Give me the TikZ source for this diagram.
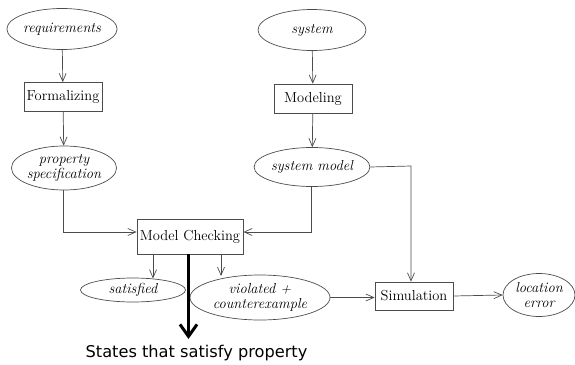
\documentclass[tikz,border=0pt]{standalone}
\usepackage{fontspec}
\newfontfamily\dejavu{DejaVu Sans}
\usetikzlibrary{shapes.geometric,arrows.meta}
\begin{document}
\begin{tikzpicture}[x=1pt,y=-1pt,
  every node/.style={font=\fontsize{14.5}{15}\selectfont},
  oval/.style={ellipse,draw=black!70,line width=0.7pt,inner sep=0pt,font=\fontsize{14.5}{15}\selectfont\itshape,align=center},
  boxnode/.style={rectangle,draw=black!70,line width=0.7pt,inner sep=0pt,align=center},
  conn/.style={draw=black!70,line width=0.7pt,-{Straight Barb[length=8pt,width=7pt]}},
  bigarrow/.style={draw=black,line width=3pt,-{Straight Barb[length=12pt,width=17pt,line width=3pt]}}]
\useasboundingbox (0,0) rectangle (575,364);
\node[oval,minimum width=107pt,minimum height=41pt] (req) at (62,29) {requirements};
\node[boxnode,minimum width=78pt,minimum height=29pt] (form) at (63,97) {Formalizing};
\node[oval,minimum width=105pt,minimum height=44pt] (prop) at (64,168) {property\\specification};
\node[oval,minimum width=108pt,minimum height=41pt] (sys) at (312,30) {system};
\node[boxnode,minimum width=78pt,minimum height=29pt] (mod) at (313,98.5) {Modeling};
\node[oval,minimum width=107pt,minimum height=39pt] (sysm) at (312,167) {system model};
\node[boxnode,minimum width=106pt,minimum height=35pt] (mc) at (190,236.5) {Model Checking};
\node[oval,minimum width=105pt,minimum height=24pt] (sat) at (133,290) {satisfied};
\node[oval,minimum width=140pt,minimum height=45pt] (vio) at (260,297.5) {violated +\\counterexample};
\node[boxnode,minimum width=78pt,minimum height=28pt] (sim) at (414,296) {Simulation};
\node[oval,minimum width=72pt,minimum height=43pt] (loc) at (539,295) {location\\error};
\node[font=\dejavu\fontsize{16.2}{18}\selectfont] (st) at (196.5,353) {States that satisfy property};
\coordinate (c1) at (63,232);
\coordinate (c2) at (311,232);
\coordinate (c3) at (411,166);
\draw[conn] (req) -- (form);
\draw[conn] (form) -- (prop);
\draw[conn] (sys) -- (mod);
\draw[conn] (mod) -- (sysm);
\draw[conn] (prop.south -| c1) -- (c1) -- (c1 -| mc.west);
\draw[conn] (sysm.south -| c2) -- (c2) -- (c2 -| mc.east);
\draw[conn] (sysm.east) -- (c3) -- (c3 |- sim.north);
\draw[conn] (mc.south -| 153,0) -- (153,278.5);
\draw[conn] (mc.south -| 221,0) -- (221,276);
\draw[conn] (vio.east) -- (vio.east -| sim.west);
\draw[conn] (sim.east) -- (loc.west);
\draw[bigarrow] (mc.south -| 188.5,0) -- (188.5,339);
\end{tikzpicture}
\end{document}
